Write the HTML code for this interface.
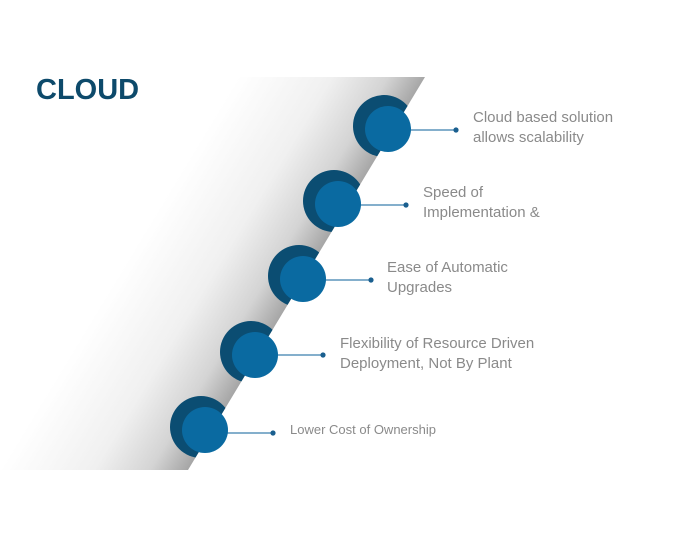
<!DOCTYPE html>
<html><head><meta charset="utf-8"><style>
html,body{margin:0;padding:0;background:#fff;width:691px;height:542px;overflow:hidden}
svg{display:block}
text{font-family:"Liberation Sans",sans-serif}
</style></head><body>
<svg width="691" height="542" viewBox="0 0 691 542" xmlns="http://www.w3.org/2000/svg">
<defs>
<linearGradient id="g" gradientUnits="userSpaceOnUse" x1="169" y1="191" x2="306" y2="274">
<stop offset="0" stop-color="#ffffff"/>
<stop offset="0.5" stop-color="#f0f0f0"/>
<stop offset="0.8" stop-color="#d4d4d4"/>
<stop offset="1" stop-color="#a6a6a6"/>
</linearGradient>
<clipPath id="c"><polygon points="0,0 425,0 425,77 188,470 0,542"/></clipPath>
</defs>
<polygon points="0,470 188,470 425,77 200,77" fill="url(#g)"/>
<text x="36" y="99" font-size="29" font-weight="bold" fill="#0d4a6b">CLOUD</text>
<g fill="#0b4d72" clip-path="url(#c)">
<circle cx="384" cy="126" r="31"/>
<circle cx="334" cy="201" r="31"/>
<circle cx="299" cy="276" r="31"/>
<circle cx="251" cy="352" r="31"/>
<circle cx="201" cy="427" r="31"/>
</g>
<g stroke="#3a7fae" stroke-width="1.3">
<line x1="410" y1="130" x2="456" y2="130"/>
<line x1="360" y1="205" x2="406" y2="205"/>
<line x1="325" y1="280" x2="371" y2="280"/>
<line x1="277" y1="355" x2="323" y2="355"/>
<line x1="227" y1="433" x2="273" y2="433"/>
</g>
<g fill="#1a5f8f">
<circle cx="456" cy="130" r="2.6"/>
<circle cx="406" cy="205" r="2.6"/>
<circle cx="371" cy="280" r="2.6"/>
<circle cx="323" cy="355" r="2.6"/>
<circle cx="273" cy="433" r="2.6"/>
</g>
<g fill="#0a6aa1">
<circle cx="388" cy="129" r="23"/>
<circle cx="338" cy="204" r="23"/>
<circle cx="303" cy="279" r="23"/>
<circle cx="255" cy="355" r="23"/>
<circle cx="205" cy="430" r="23"/>
</g>
<g fill="#8a8a8a" font-size="15">
<text x="473" y="122">Cloud based solution</text>
<text x="473" y="142">allows scalability</text>
<text x="423" y="197">Speed of</text>
<text x="423" y="217">Implementation &amp;</text>
<text x="387" y="272">Ease of Automatic</text>
<text x="387" y="292">Upgrades</text>
<text x="340" y="348">Flexibility of Resource Driven</text>
<text x="340" y="368">Deployment, Not By Plant</text>
<text x="290" y="434" font-size="13">Lower Cost of Ownership</text>
</g>
</svg>
</body></html>
